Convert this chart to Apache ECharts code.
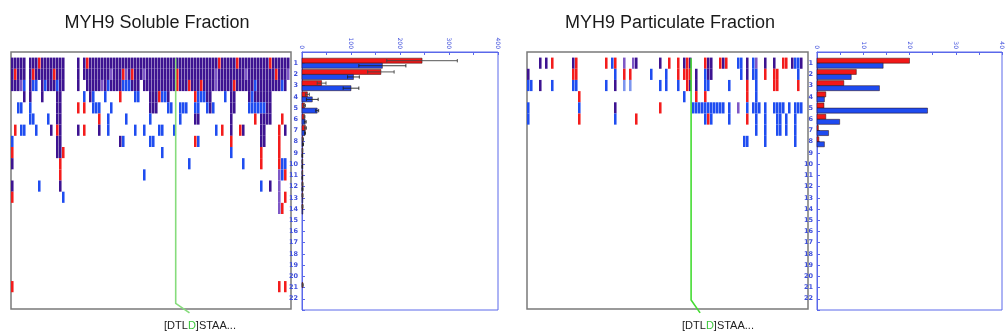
<!DOCTYPE html>
<html><head><meta charset="utf-8">
<script src="https://cdn.jsdelivr.net/npm/echarts@6/dist/echarts.min.js"></script>
<style>html,body{margin:0;padding:0;background:#fff}#c{width:1005px;height:335px}</style>
</head><body><div id="c"></div>
<script>
// ---------- data ----------
const rowLabels = ['1','2','3','4','5','6','7','8','9','10','11','12','13','14','15','16','17','18','19','20','21','22'];
const titles = ['MYH9 Soluble Fraction', 'MYH9 Particulate Fraction'];
const peptideLabel = ['[DTL', 'D', ']STAA...'];
// cell codes: P dark purple, V violet, R red, B blue, L light blue ; one string per column, rows 1..22 top-down
const leftCols = [
 "PPP....BRP.PR.......R","PRP...R","PPP.B","PPV.B.B","PPBP..B","","PPPPBB","PRB..B","PPB...B","RP.........B",
 "PPPP","PPB","PPP..B","PPP...P","PRP","PPBPPPRPP","PPPPPPPPPRRP","PPP.....R...B","","",
 "","","PPP.R.P","","PP.BR.R","RPP","PPPP","PPPBB","PPP.B","PPP.BRP",
 "PPV","PPPB","PPB..BB","PVP.B","PPP","PPP","PPPR...P","PRB....B","PVB..B","PPB",
 "PRP","PPPB..B","PPPB","PP","PVP...B...B","PPP","PPPPPB.B","PPPPP..B","PPPPP","PPPR..B",
 "PPPB..B.B","PPPB","PPPPB","PPP.B","PPP...B","PRR","PPP.BB","PPP.B","PPP.B","PPR......B",
 "PPP","PPPRBP.R","PPPBBP.B","PPRB","PPPB","PPPPB","PPPPP","PPP.B","PVV...B","RPP",
 "PPP...R","PPPB","PPP","PPPPPPPRB","PPRPP","RPP","PPP...R","PPP...P..B","PVP","PPPPB",
 "PPPBB","PPBPBR","PPPPB","PPPPBPPPRR.B","PPPPBPPP","PPPPPP","RPPPPP.....P","PPP","PRP","PPP...RRRRVVVV......R",
 "PPB..R...BB..R","PPP...P..BR.R.......R","PV"
];
const rightCols = [
 ".PB.BB","..B","","","P.P","","P","","R.B","",
 "","","","","","PRB","RRB","...RBR","","",
 "","","","","","","R.B","","B","RBP.PB",
 "","","VRL","",".RL","V","P....R","","","",
 "",".B","","","P.B.R","",".BB","R","","",
 "RRB","","PR.B","RRR","PRP","....B",".PPRB","....B","....B","RBBRBB",
 "PPB.BR","PP..BB","....B","....B","R...B","P...B","R","..B.BB","","",
 "B...V","BB",".......B","PPRRBR.B","","BB..B","VBBBBBB","....B","","PR..BBBB",
 "","","PRR.B",".RR.BBB","....BBB","R...B","R....BB","....B","P","B...BBBB",
 "BBR.B","P...B",""
];
// soluble fraction bars (value, error half-width), rows 1..22
const solRed     = [245,161,40,11,5,5,7,2,1,0.5,0.5,1,1,1,0,0,0,0,0,0,1.5,0];
const solRedErr  = [72,27,9,4,2,1,2,1,0.5,0.5,0.5,1,1,1,0,0,0,0,0,0,1,0];
const solBlue    = [164,105,100,21,31,6.5,6,2,0.5,0.5,0.5,1,0.3,0.3,0,0,0,0,0,0,0,0];
const solBlueErr = [48,12,16,12,3,2,1,1,0.5,0.5,0.5,1,0,0,0,0,0,0,0,0,0,0];
// particulate fraction bars
const partRed  = [20,8.5,5.8,1.9,1.5,1.9,0.3,0.4,0,0,0,0,0,0,0,0,0,0,0,0,0,0];
const partBlue = [14.3,7.4,13.5,1.6,23.9,4.9,2.5,1.6,0,0,0,0,0,0,0,0,0,0,0,0,0,0];
const solTicks  = [0,100,200,300,400];
const partTicks = [0,10,20,30,40];
// position of the marked residue (column index) in each map
const markerCol = [54.9, 54.7];

// ---------- styling ----------
const CODES = 'PVRBL';
const PALETTE = ['#3d1391','#7e58c6','#f31c1c','#1f4df0','#7d95ee'];
const RED = '#f21818', BLUE = '#1e4bf0', AXIS_BLUE = '#5a68ea', LABEL_BLUE = '#3f4fdc';

function cells(cols){
  const out = [];
  cols.forEach((s, c) => {
    for (let i = 0; i < s.length; i++) {
      const k = CODES.indexOf(s[i]);
      if (k >= 0) out.push([c, i + 1, k]);
    }
  });
  return out;
}
function cellRender(params, api){
  const c = api.value(0), r = api.value(1), k = api.value(2);
  const a = api.coord([c, r - 0.5]), b = api.coord([c + 1, r + 0.5]);
  return {type:'rect', shape:{x:a[0], y:a[1], width:Math.max(b[0]-a[0]-0.45, 1), height:b[1]-a[1]},
          style:{fill:PALETTE[k]}};
}
function barData(vals){ const o=[]; vals.forEach((v,i)=>{ if(v>0) o.push([v, i+1]); }); return o; }
function errData(vals, errs){ const o=[]; vals.forEach((v,i)=>{ if(errs[i]>0) o.push([v, i+1, errs[i]]); }); return o; }
function barRender(off, color){
  return function(params, api){
    const v = api.value(0), r = api.value(1);
    const a = api.coord([0, r + off]), b = api.coord([v, r + off + 0.45]);
    return {type:'rect', shape:{x:a[0], y:a[1], width:Math.max(b[0]-a[0], 0.8), height:b[1]-a[1]},
            style:{fill:color, stroke:'#2a0a0a', lineWidth:0.5}};
  };
}
function errRender(off, color){
  return function(params, api){
    const v = api.value(0), r = api.value(1), e = api.value(2);
    const yc = r + off + 0.225;
    const l = api.coord([Math.max(v - e, 0), yc]), h = api.coord([v + e, yc]);
    const cap = api.size([0, 0.3])[1];
    const st = {stroke: color, lineWidth: 0.9};
    return {type:'group', children:[
      {type:'line', shape:{x1:l[0], y1:l[1], x2:h[0], y2:h[1]}, style:st},
      {type:'line', shape:{x1:l[0], y1:l[1]-cap/2, x2:l[0], y2:l[1]+cap/2}, style:st},
      {type:'line', shape:{x1:h[0], y1:h[1]-cap/2, x2:h[0], y2:h[1]+cap/2}, style:st}
    ]};
  };
}

const chart = echarts.init(document.getElementById('c'), null, {renderer:'canvas'});
const heatGrid = {show:true, borderColor:'#7a7a7a', borderWidth:1.5, backgroundColor:'#fff'};
const barGrid = {show:true, borderColor:AXIS_BLUE, borderWidth:1, backgroundColor:'transparent'};

function heatX(idx, w){ return {gridIndex:idx, type:'value', min:0, max:w/3, show:false}; }
function heatY(idx){ return {gridIndex:idx, type:'value', min:0, max:23, inverse:true, show:false}; }
function barX(idx, ticks){
  return {gridIndex:idx, type:'value', position:'top', min:ticks[0], max:ticks[ticks.length-1],
    interval:(ticks[1]-ticks[0])/2,
    axisLine:{show:true, lineStyle:{color:AXIS_BLUE, width:1}},
    axisTick:{show:true, inside:true, length:3, lineStyle:{color:AXIS_BLUE}},
    splitLine:{show:false},
    axisLabel:{show:true, rotate:-90, fontSize:6, color:LABEL_BLUE, margin:3, fontFamily:'DejaVu Sans',
      formatter: v => ticks.indexOf(v) >= 0 ? String(v) : ''}};
}
function barY(idx){
  return {gridIndex:idx, type:'value', min:0, max:23, interval:1, inverse:true,
    axisLine:{show:true, lineStyle:{color:AXIS_BLUE}},
    axisTick:{show:true, inside:true, length:3, lineStyle:{color:AXIS_BLUE}},
    splitLine:{show:false},
    axisLabel:{show:true, fontSize:6.5, fontWeight:'bold', color:LABEL_BLUE, margin:4, fontFamily:'DejaVu Sans',
      formatter: v => (v >= 1 && v <= rowLabels.length) ? rowLabels[v-1] : ''}};
}
function greenLine(idx, col, color, dx, endY){
  return {type:'line', xAxisIndex:idx, yAxisIndex:idx, clip:false, symbol:'none', z:10, silent:true,
    data:[[col, 0.55],[col, endY],[col + dx, 23.35]],
    lineStyle:{color:color, width:1.6}};
}

const option = {
  animation:false,
  backgroundColor:'#fff',
  title:[
    {text:titles[0], left:152, top:9, textAlign:'center',
     textStyle:{fontSize:18, fontWeight:'normal', color:'#1a1a1a', fontFamily:'Liberation Sans'}},
    {text:titles[1], left:665, top:9, textAlign:'center',
     textStyle:{fontSize:18, fontWeight:'normal', color:'#1a1a1a', fontFamily:'Liberation Sans'}}
  ],
  grid:[
    Object.assign({left:11, top:52, width:280, height:257}, heatGrid),
    Object.assign({left:302, top:52, width:196, height:258}, barGrid),
    Object.assign({left:527, top:52, width:281, height:257}, heatGrid),
    Object.assign({left:817, top:52, width:196, height:258}, barGrid)
  ],
  xAxis:[heatX(0,280), barX(1, solTicks), heatX(2,281), barX(3, partTicks)],
  yAxis:[heatY(0), barY(1), heatY(2), barY(3)],
  graphic:[
    {type:'text', x:200, y:326, style:{text:'{a|'+peptideLabel[0]+'}{g|'+peptideLabel[1]+'}{a|'+peptideLabel[2]+'}',
      align:'center', verticalAlign:'middle',
      rich:{a:{fontSize:11, fill:'#222', fontFamily:'Liberation Sans'}, g:{fontSize:11, fill:'#3cc83c', fontFamily:'Liberation Sans'}}}},
    {type:'text', x:718, y:326, style:{text:'{a|'+peptideLabel[0]+'}{g|'+peptideLabel[1]+'}{a|'+peptideLabel[2]+'}',
      align:'center', verticalAlign:'middle',
      rich:{a:{fontSize:11, fill:'#222', fontFamily:'Liberation Sans'}, g:{fontSize:11, fill:'#3cc83c', fontFamily:'Liberation Sans'}}}}
  ],
  series:[
    {type:'custom', xAxisIndex:0, yAxisIndex:0, data:cells(leftCols), renderItem:cellRender, z:2, silent:true},
    {type:'custom', xAxisIndex:2, yAxisIndex:2, data:cells(rightCols), renderItem:cellRender, z:2, silent:true},
    greenLine(0, markerCol[0], '#86dc7c', 4.6, 22.5),
    greenLine(2, markerCol[1], '#45dc33', 3.0, 22.2),
    {type:'custom', xAxisIndex:1, yAxisIndex:1, data:barData(solRed), renderItem:barRender(-0.45, RED), z:3, silent:true},
    {type:'custom', xAxisIndex:1, yAxisIndex:1, data:barData(solBlue), renderItem:barRender(0, BLUE), z:3, silent:true},
    {type:'custom', xAxisIndex:1, yAxisIndex:1, data:errData(solRed, solRedErr), renderItem:errRender(-0.45, '#444'), z:4, silent:true},
    {type:'custom', xAxisIndex:1, yAxisIndex:1, data:errData(solBlue, solBlueErr), renderItem:errRender(0, '#222'), z:4, silent:true},
    {type:'custom', xAxisIndex:3, yAxisIndex:3, data:barData(partRed), renderItem:barRender(-0.45, RED), z:3, silent:true},
    {type:'custom', xAxisIndex:3, yAxisIndex:3, data:barData(partBlue), renderItem:barRender(0, BLUE), z:3, silent:true}
  ]
};
chart.setOption(option);
</script></body></html>
